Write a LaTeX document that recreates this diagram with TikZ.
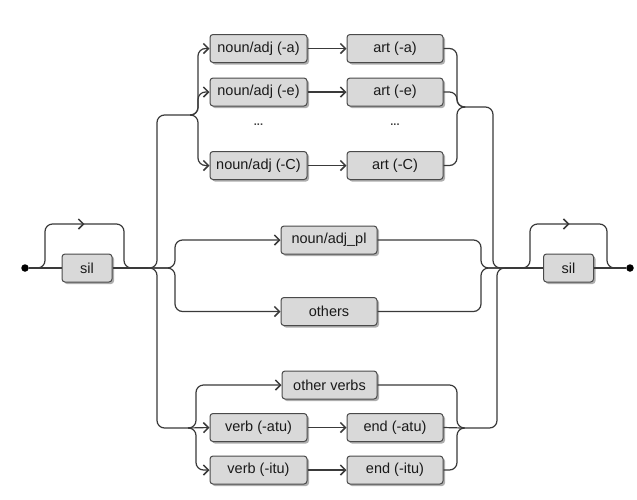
\documentclass[tikz,border=0pt]{standalone}
\usepackage{fontspec}
\setmainfont{Liberation Sans}
\usetikzlibrary{arrows.meta,shadows,decorations.markings}
\definecolor{linec}{HTML}{3A3A3A}
\definecolor{boxfill}{HTML}{D9D9D9}
\definecolor{boxline}{HTML}{4A4A4A}
\definecolor{textc}{HTML}{1A1A1A}
\begin{document}
\begin{tikzpicture}[x=1pt,y=-1pt,
  wire/.style={draw=linec, line width=1.2pt, rounded corners=7.5pt},
  arr/.style={-{Straight Barb[length=5pt,width=10pt,line width=1.5pt]}},
  midarr/.style={postaction={decorate}, decoration={markings, mark=at position 0.5 with {\arrow{Straight Barb[length=5pt,width=10pt,line width=1.5pt]}}}},
  box/.style={draw=boxline, fill=boxfill, line width=1pt, rounded corners=3pt,
    minimum height=28pt, inner sep=0pt, text=textc,
    font=\fontsize{14.5}{16}\selectfont,
    drop shadow={shadow xshift=2pt, shadow yshift=-2pt, fill=black!45, opacity=0.7}},
  dot/.style={circle, fill=black, inner sep=0pt, minimum size=7.5pt},
  ell/.style={font=\fontsize{11}{12}\bfseries\selectfont, text=black!75}
]
\fill[white] (0,0) rectangle (637,499);
\useasboundingbox (0,0) rectangle (637,499);

% nodes
\node[dot] (dotL) at (25,268) {};
\node[dot] (dotR) at (630,268) {};
\node[box, minimum width=50pt] (silL) at (87,268) {sil};
\node[box, minimum width=50pt] (silR) at (568.5,268) {sil};

\node[box, minimum width=97pt] (nA) at (258.5,48.5) {noun/adj (-a)};
\node[box, minimum width=97pt] (nE) at (258.5,92) {noun/adj (-e)};
\node[box, minimum width=97pt] (nC) at (258.5,165.5) {noun/adj (-C)};
\node[box, minimum width=96pt] (aA) at (395,48.5) {art (-a)};
\node[box, minimum width=96pt] (aE) at (395,92) {art (-e)};
\node[box, minimum width=96pt] (aC) at (395,165.5) {art (-C)};
\node[ell] (d1) at (258.5,125) {...};
\node[ell] (d2) at (395,125) {...};

\node[box, minimum width=96pt] (npl) at (329,240) {noun/adj\_pl};
\node[box, minimum width=96pt] (oth) at (329,311.5) {others};

\node[box, minimum width=95pt] (ov) at (329.5,385) {other verbs};
\node[box, minimum width=97pt] (vatu) at (258.5,427.5) {verb (-atu)};
\node[box, minimum width=97pt] (vitu) at (258.5,470) {verb (-itu)};
\node[box, minimum width=96pt] (eatu) at (395,427.5) {end (-atu)};
\node[box, minimum width=96pt] (eitu) at (395,470) {end (-itu)};

% junctions
\coordinate (J1) at (148,268);
\coordinate (J2) at (505,268);
\coordinate (T1) at (190,115);
\coordinate (T2) at (465,107);
\coordinate (B1) at (188,428);
\coordinate (B2) at (463,428);
\coordinate (bL1) at (35,268);
\coordinate (bL2) at (134,268);
\coordinate (bR1) at (520,268);
\coordinate (bR2) at (619,268);

% main line
\draw[wire] (dotL) -- (silL);
\draw[wire] (silL) -- (J1);
\draw[wire] (J2) -- (silR);
\draw[wire] (silR) -- (dotR);
\draw[wire, midarr] (bL1) -- (45,268) -- (45,224) -- (124,224) -- (124,268) -- (bL2);
\draw[wire, midarr] (bR1) -- (530,268) -- (530,224) -- (607,224) -- (607,268) -- (bR2);

% top group
\draw[wire] (J1) -- (157,268) -- (157,115) -- (T1);
\draw[wire, arr] (T1) -- (198,115) |- (nA.west);
\draw[wire, arr] (T1) -- (198,115) |- (nE.west);
\draw[wire, arr] (T1) -- (198,115) |- (nC.west);
\draw[wire, arr] (nA) -- (aA);
\draw[wire, arr] (nE) -- (aE);
\draw[wire, arr] (nC) -- (aC);
\draw[wire] (aA.east) -| (457,107) -- (T2);
\draw[wire] (aE.east) -| (457,107) -- (T2);
\draw[wire] (aC.east) -| (457,107) -- (T2);
\draw[wire] (T2) -- (493,107) -- (493,268) -- (J2);

% middle
\draw[wire, arr] (J1) -- (175,268) |- (npl.west);
\draw[wire, arr] (J1) -- (175,268) |- (oth.west);
\draw[wire] (npl.east) -| (481,268) -- (J2);
\draw[wire] (oth.east) -| (481,268) -- (J2);

% bottom group
\draw[wire] (J1) -- (157,268) -- (157,428) -- (B1);
\draw[wire, arr] (B1) -- (196,428) |- (ov.west);
\draw[wire, arr] (B1) -- (vatu.west);
\draw[wire, arr] (B1) -- (196,428) |- (vitu.west);
\draw[wire, arr] (vatu) -- (eatu);
\draw[wire, arr] (vitu) -- (eitu);
\draw[wire] (ov.east) -| (457,428) -- (B2);
\draw[wire] (eatu.east) -- (B2);
\draw[wire] (eitu.east) -| (457,428) -- (B2);
\draw[wire] (B2) -- (497,428) -- (497,268) -- (J2);
\end{tikzpicture}
\end{document}
